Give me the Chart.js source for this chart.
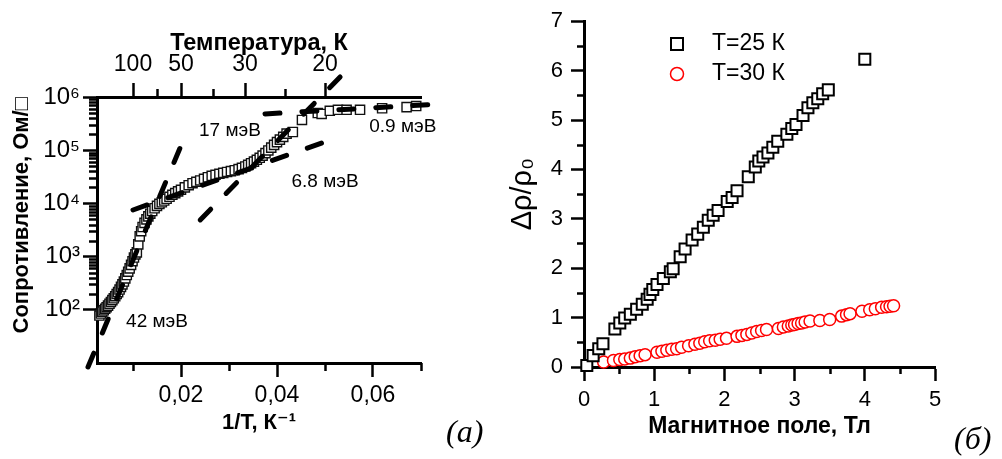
<!DOCTYPE html>
<html>
<head>
<meta charset="utf-8">
<script src="https://cdn.jsdelivr.net/npm/chart.js@4.4.1/dist/chart.umd.min.js"></script>
<style>
  html, body { margin: 0; padding: 0; background: #fff; }
  body { width: 1002px; height: 459px; position: relative; overflow: hidden; }
  #wrapA { position: absolute; left: 0; top: 0; width: 500px; height: 459px; }
  #wrapB { position: absolute; left: 500px; top: 0; width: 502px; height: 459px; }
  .panel { position: absolute; font-family: "Liberation Serif", "Times New Roman", serif; font-style: italic; font-size: 32px; line-height: 32px; color: #000; }
</style>
</head>
<body>
<div id="wrapA"><canvas id="chartA" width="500" height="459"></canvas></div>
<div id="wrapB"><canvas id="chartB" width="502" height="459"></canvas></div>
<div class="panel" style="left:446px; top:415px;">(а)</div>
<div class="panel" style="left:954px; top:422px;">(б)</div>
<script>
// (а) сопротивление от обратной температуры
const invT = [0.0030, 0.0033, 0.0036, 0.0039, 0.0042, 0.0045, 0.0048, 0.0051, 0.0054, 0.0057,
              0.0060, 0.0063, 0.0066, 0.0069, 0.0072, 0.0075, 0.0078, 0.0081, 0.0084, 0.0087,
              0.0090, 0.0093, 0.0096, 0.0099, 0.0102, 0.0105, 0.0108, 0.0111, 0.0114, 0.0117,
              0.0120, 0.0124, 0.0128, 0.0132, 0.0136, 0.0140, 0.0145, 0.0150, 0.0155, 0.0160,
              0.0165, 0.0170, 0.0176, 0.0182, 0.0188, 0.0194, 0.0200, 0.0208, 0.0216, 0.0224,
              0.0232, 0.0240, 0.0248, 0.0256, 0.0264, 0.0272, 0.0280, 0.0288, 0.0296, 0.0304,
              0.0312, 0.0320, 0.0327, 0.0334, 0.0340, 0.0346, 0.0352, 0.0358, 0.0364, 0.0370,
              0.0376, 0.0382, 0.0388, 0.0394, 0.0400, 0.0406, 0.0413, 0.0420, 0.0433, 0.0452,
              0.0485, 0.0493, 0.0510, 0.0527, 0.0545, 0.0573, 0.0619, 0.0670, 0.0690];
const resistance = [78, 85, 92, 98, 105, 112, 120, 130, 140, 152,
                    165, 180, 198, 215, 240, 270, 300, 340, 390, 450,
                    520, 600, 700, 820, 960, 1100, 1200, 1700, 2400, 3000,
                    3600, 4300, 5000, 5700, 6400, 7200, 8100, 9000, 9800, 10500,
                    11300, 12200, 13300, 14500, 15600, 16800, 18000, 20000, 22000, 24000,
                    25500, 27000, 29000, 31000, 33000, 34500, 36000, 37500, 39000, 40500,
                    42000, 44000, 46500, 49500, 53000, 57000, 61000, 66000, 72000, 79000,
                    88000, 99000, 112000, 126000, 142000, 158000, 178000, 205000, 220000, 370000,
                    500000, 480000, 550000, 575000, 575000, 575000, 615000, 645000, 676000];

// аппроксимации (концы штриховых прямых)
const fit42X = [0.000625, 0.0204];
const fit42R = [8.4, 148000];
const fit17X = [0.024, 0.0546];
const fit17R = [4900, 3240000];
const fit68X = [0.010, 0.051];
const fit68R = [7520, 155000];
const fit09X = [0.0375, 0.074];
const fit09R = [480000, 740000];

const energyText = ['42 мэВ', '17 мэВ', '6.8 мэВ', '0.9 мэВ'];
const energyX = [0.0150, 0.0302, 0.0500, 0.0662];
const energyR = [59, 230000, 25000, 280000];

const xTicksA = [0.02, 0.04, 0.06];
const xMinorA = [0.01, 0.03, 0.05, 0.07];
const tempTicks = [100, 50, 30, 20];
const tempMinorInv = [0.015, 0.0267, 0.0417];
const rTicks = [100, 1000, 10000, 100000, 1000000];

// (б) магнитосопротивление
const field25 = [0.04, 0.13, 0.21, 0.27, 0.44, 0.51, 0.58, 0.66, 0.75, 0.83,
                 0.90, 0.94, 0.98, 1.04, 1.13, 1.23, 1.27, 1.37, 1.44, 1.54,
                 1.62, 1.70, 1.77, 1.84, 1.91, 2.04, 2.11, 2.18, 2.34, 2.44,
                 2.49, 2.55, 2.62, 2.69, 2.76, 2.89, 2.96, 3.02, 3.12, 3.19,
                 3.26, 3.33, 3.40, 3.48, 4.00];
const mr25 = [0.03, 0.23, 0.37, 0.47, 0.77, 0.89, 0.99, 1.07, 1.17, 1.27,
              1.37, 1.47, 1.57, 1.67, 1.79, 1.93, 1.99, 2.23, 2.39, 2.57,
              2.69, 2.83, 2.97, 3.07, 3.17, 3.35, 3.43, 3.57, 3.85, 4.05,
              4.17, 4.25, 4.33, 4.45, 4.57, 4.71, 4.83, 4.91, 5.09, 5.25,
              5.35, 5.43, 5.53, 5.61, 6.23];
const field30 = [0.28, 0.42, 0.51, 0.58, 0.66, 0.73, 0.80, 0.87, 1.04, 1.11,
                 1.18, 1.25, 1.32, 1.39, 1.49, 1.58, 1.65, 1.72, 1.79, 1.87,
                 1.94, 2.03, 2.18, 2.25, 2.32, 2.39, 2.46, 2.53, 2.60, 2.77,
                 2.84, 2.91, 2.96, 3.00, 3.05, 3.10, 3.15, 3.22, 3.36, 3.50,
                 3.67, 3.74, 3.79, 3.96, 4.07, 4.15, 4.24, 4.31, 4.36, 4.41];
const mr30 = [0.10, 0.13, 0.15, 0.16, 0.18, 0.21, 0.23, 0.25, 0.30, 0.32,
              0.34, 0.36, 0.37, 0.40, 0.43, 0.46, 0.48, 0.51, 0.53, 0.54,
              0.56, 0.58, 0.62, 0.64, 0.66, 0.69, 0.72, 0.74, 0.76, 0.78,
              0.81, 0.83, 0.85, 0.86, 0.88, 0.89, 0.91, 0.93, 0.94, 0.96,
              1.03, 1.06, 1.08, 1.13, 1.16, 1.18, 1.21, 1.22, 1.23, 1.24];

Chart.defaults.font.family = '"Liberation Sans", Arial, "DejaVu Sans", sans-serif';
Chart.defaults.color = '#000';

const pts = (xs, ys) => xs.map((x, i) => ({ x: x, y: ys[i] }));
const sup = { '2': '²', '3': '³', '4': '⁴', '5': '⁵', '6': '⁶' };

// короткие промежуточные риски
function minorTicks(spec, len) {
  return {
    id: 'minorTicks',
    afterDraw(chart) {
      const ctx = chart.ctx;
      const ca = chart.chartArea;
      ctx.save();
      ctx.strokeStyle = '#000';
      ctx.lineWidth = 2.5;
      Object.keys(spec).forEach(id => {
        const s = chart.scales[id];
        spec[id].forEach(v => {
          const p = Math.round(s.getPixelForValue(v)) + 0.5;
          ctx.beginPath();
          if (s.position === 'left') {
            ctx.moveTo(ca.left - len, p); ctx.lineTo(ca.left, p);
          } else if (s.position === 'top') {
            ctx.moveTo(p, ca.top - len); ctx.lineTo(p, ca.top);
          } else {
            ctx.moveTo(p, ca.bottom); ctx.lineTo(p, ca.bottom + len);
          }
          ctx.stroke();
        });
      });
      ctx.restore();
    }
  };
}

const logMinor = [];
for (let d = 100; d < 1000000; d *= 10) {
  for (let m = 2; m <= 9; m++) logMinor.push(m * d);
}

const energyLabels = {
  id: 'energyLabels',
  afterDatasetsDraw(chart) {
    const { ctx, scales: { x, y } } = chart;
    ctx.save();
    ctx.font = '19px "Liberation Sans", Arial, sans-serif';
    ctx.fillStyle = '#000';
    ctx.textAlign = 'center';
    ctx.textBaseline = 'middle';
    energyText.forEach((t, i) => ctx.fillText(t, x.getPixelForValue(energyX[i]), y.getPixelForValue(energyR[i])));
    ctx.restore();
  }
};

const fitLine = (xs, rs) => ({
  type: 'scatter',
  data: pts(xs, rs),
  showLine: true,
  borderColor: '#000',
  borderWidth: 5,
  borderDash: [15, 22],
  borderCapStyle: 'round',
  pointRadius: 0,
  clip: false,
  order: 0
});

const tickGrid = { drawOnChartArea: false, tickLength: 14, tickWidth: 2.5, tickColor: '#000' };
const axisBorder = { width: 3, color: '#000' };

new Chart(document.getElementById('chartA'), {
  type: 'scatter',
  data: {
    datasets: [
      fitLine(fit42X, fit42R),
      fitLine(fit17X, fit17R),
      fitLine(fit68X, fit68R),
      fitLine(fit09X, fit09R),
      {
        data: pts(invT, resistance),
        pointStyle: 'rect',
        pointRadius: 6.5,
        borderColor: '#111',
        borderWidth: 1.4,
        backgroundColor: '#fff',
        clip: false,
        order: 1
      }
    ]
  },
  options: {
    responsive: false,
    animation: false,
    layout: { padding: { left: 0, right: 79, top: 0, bottom: 0 } },
    plugins: { legend: { display: false }, tooltip: { enabled: false } },
    scales: {
      x: {
        type: 'linear', position: 'bottom', min: 0.0025, max: 0.07,
        afterBuildTicks: s => { s.ticks = xTicksA.map(v => ({ value: v })); },
        afterFit: s => { s.height = 96; },
        ticks: { autoSkip: false, maxRotation: 0, padding: 5, font: { size: 23 },
                 callback: v => v.toFixed(2).replace('.', ',') },
        grid: tickGrid, border: axisBorder,
        title: { display: true, text: '1/T, К⁻¹', font: { size: 22, weight: 'bold' }, padding: { top: 0, bottom: 23 } }
      },
      x2: {
        type: 'linear', position: 'top', min: 0.0025, max: 0.07,
        afterBuildTicks: s => { s.ticks = tempTicks.map(t => ({ value: 1 / t })); },
        afterFit: s => { s.height = 97; },
        ticks: { autoSkip: false, maxRotation: 0, padding: 5, font: { size: 23 },
                 callback: v => String(Math.round(1 / v)) },
        grid: tickGrid, border: axisBorder,
        title: { display: true, text: 'Температура, К', font: { size: 23.5, weight: 'bold' }, padding: { top: 29, bottom: 0 } }
      },
      y: {
        type: 'logarithmic', position: 'left', min: 10, max: 1000000,
        afterBuildTicks: s => { s.ticks = rTicks.map(v => ({ value: v })); },
        afterFit: s => { s.width = 97; },
        ticks: { autoSkip: false, padding: 3, font: { size: 24 },
                 callback: v => '10' + sup[String(Math.round(Math.log10(v)))] },
        grid: tickGrid, border: axisBorder,
        title: { display: true, text: 'Сопротивление, Ом/□', align: 'end', font: { size: 22, weight: 'bold' }, padding: { top: 9, bottom: 0 } }
      }
    }
  },
  plugins: [minorTicks({ x: xMinorA, x2: tempMinorInv, y: logMinor }, 8), energyLabels]
});

const legendB = {
  id: 'legendB',
  afterDraw(chart) {
    const ctx = chart.ctx;
    ctx.save();
    ctx.font = '23px "Liberation Sans", Arial, sans-serif';
    ctx.textBaseline = 'middle';
    chart.data.datasets.forEach((ds, i) => {
      const cx = 177, cy = 44 + 30 * i;
      ctx.lineWidth = ds.borderWidth;
      ctx.strokeStyle = ds.borderColor;
      ctx.fillStyle = '#fff';
      ctx.beginPath();
      if (ds.pointStyle === 'rect') ctx.rect(cx - 6, cy - 6, 12, 12);
      else ctx.arc(cx, cy, 6.5, 0, 2 * Math.PI);
      ctx.fill();
      ctx.stroke();
      ctx.fillStyle = '#000';
      ctx.fillText(ds.label, 212, cy);
    });
    ctx.restore();
  }
};

new Chart(document.getElementById('chartB'), {
  type: 'scatter',
  data: {
    datasets: [
      {
        label: 'T=25 К',
        data: pts(field25, mr25),
        pointStyle: 'rect',
        pointRadius: 7.8,
        borderColor: '#000',
        borderWidth: 2,
        backgroundColor: '#fff',
        clip: false
      },
      {
        label: 'T=30 К',
        data: pts(field30, mr30),
        pointStyle: 'circle',
        pointRadius: 6,
        borderColor: '#ff0000',
        borderWidth: 1.5,
        backgroundColor: '#fff',
        clip: false
      }
    ]
  },
  options: {
    responsive: false,
    animation: false,
    layout: { padding: { left: 0, right: 67, top: 17, bottom: 0 } },
    plugins: { legend: { display: false }, tooltip: { enabled: false } },
    scales: {
      x: {
        type: 'linear', position: 'bottom', min: 0, max: 5,
        afterFit: s => { s.height = 92; },
        ticks: { stepSize: 1, autoSkip: false, maxRotation: 0, padding: 6, font: { size: 22 } },
        grid: tickGrid, border: axisBorder,
        title: { display: true, text: 'Магнитное поле, Тл', font: { size: 23, weight: 'bold' }, padding: { top: 0, bottom: 19 } }
      },
      y: {
        type: 'linear', position: 'left', min: 0, max: 7,
        afterFit: s => { s.width = 84; },
        ticks: { stepSize: 1, autoSkip: false, padding: 8, font: { size: 22 } },
        grid: Object.assign({}, tickGrid, { tickLength: 13 }), border: axisBorder,
        title: { display: true, text: 'Δρ/ρ₀', font: { size: 29 }, padding: { top: 6, bottom: 0 } }
      }
    }
  },
  plugins: [minorTicks({ x: [0.5, 1.5, 2.5, 3.5, 4.5], y: [0.5, 1.5, 2.5, 3.5, 4.5, 5.5, 6.5] }, 7), legendB]
});
</script>
</body>
</html>
